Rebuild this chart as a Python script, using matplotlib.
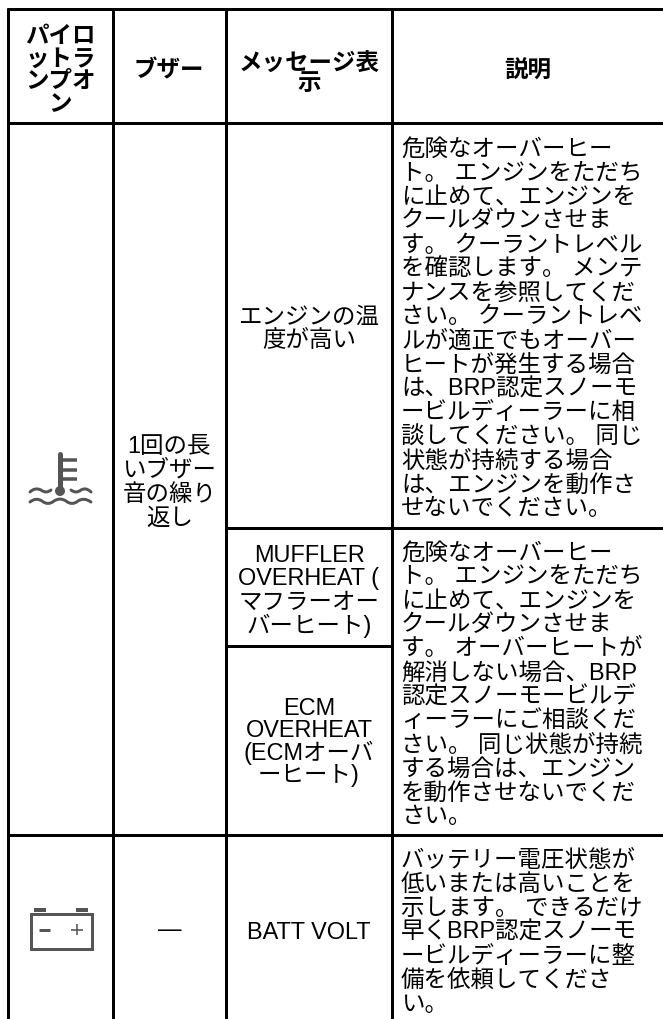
import matplotlib
matplotlib.use("Agg")
import matplotlib.pyplot as plt
from matplotlib.path import Path
from matplotlib.patches import PathPatch, Rectangle, Circle

W, H = 663, 1020
FONT = ['Liberation Sans', 'Noto Sans CJK JP']
FS = 16.9
PITCH = 24

col_x = [8, 112.5, 226, 392]
row_y = [10, 124, 529, 836, 1024]
msg_sep_y = 647

headers = [
    ["パイロ", "ットラ", "ンプオ", "ン"],
    ["ブザー"],
    ["メッセージ表", "示"],
    ["説明"],
]
buzzer_main = ["1回の長", "いブザー", "音の繰り", "返し"]
buzzer_batt = ["—"]
msg_engine = ["エンジンの温", "度が高い"]
msg_muffler = ["MUFFLER", "OVERHEAT (", "マフラーオー", "バーヒート)"]
msg_ecm = ["ECM", "OVERHEAT", "(ECMオーバ", "ーヒート)"]
msg_batt = ["BATT VOLT"]
desc_engine = [
    "危険なオーバーヒー", "ト。 エンジンをただち", "に止めて、エンジンを",
    "クールダウンさせま", "す。 クーラントレベル", "を確認します。 メンテ",
    "ナンスを参照してくだ", "さい。 クーラントレベ", "ルが適正でもオーバー",
    "ヒートが発生する場合", "は、BRP認定スノーモ", "ービルディーラーに相",
    "談してください。 同じ", "状態が持続する場合", "は、エンジンを動作さ",
    "せないでください。",
]
desc_overheat = [
    "危険なオーバーヒー", "ト。 エンジンをただち", "に止めて、エンジンを",
    "クールダウンさせま", "す。 オーバーヒートが", "解消しない場合、BRP",
    "認定スノーモービルデ", "ィーラーにご相談くだ", "さい。 同じ状態が持続",
    "する場合は、エンジン", "を動作させないでくだ", "さい。",
]
desc_batt = [
    "バッテリー電圧状態が", "低いまたは高いことを", "示します。 できるだけ",
    "早くBRP認定スノーモ", "ービルディーラーに整", "備を依頼してくださ", "い。",
]

fig = plt.figure(figsize=(W / 100, H / 100), dpi=100, facecolor="white")
ax = fig.add_axes([0, 0, 1, 1])
ax.set_xlim(0, W)
ax.set_ylim(H, 0)
ax.axis("off")

LW = 3 * 0.72
for x in col_x:
    ax.plot([x, x], [row_y[0] - 1.5, H], color="black", lw=LW, solid_capstyle="butt")
for y in row_y[:2]:
    ax.plot([col_x[0] - 1.5, W], [y, y], color="black", lw=LW, solid_capstyle="butt")
ax.plot([col_x[2], W], [row_y[2]] * 2, color="black", lw=LW, solid_capstyle="butt")
ax.plot([col_x[0], W], [row_y[3]] * 2, color="black", lw=LW, solid_capstyle="butt")
ax.plot([col_x[2], col_x[3]], [msg_sep_y] * 2, color="black", lw=LW, solid_capstyle="butt")


def block(lines, x, yc, ha="center", weight="normal", pitch=PITCH):
    y0 = yc - pitch * (len(lines) - 1) / 2
    for i, s in enumerate(lines):
        ax.text(x, y0 + i * pitch, s, ha=ha, va="center_baseline", fontsize=FS,
                family=FONT, weight=weight, color="black")


cx = [(col_x[i] + col_x[i + 1]) / 2 for i in range(3)]
hy = (row_y[0] + row_y[1]) / 2
block(headers[0], cx[0], hy + 1, weight="bold", pitch=22.5)
block(headers[1], cx[1], hy + 1.5, weight="bold")
block(headers[2], cx[2], hy + 4.5, weight="bold", pitch=19)
block(headers[3], (col_x[3] + W) / 2, hy + 1.5, weight="bold")

block(buzzer_main, cx[1], (row_y[1] + row_y[3]) / 2)
block(buzzer_batt, cx[1], (row_y[3] + row_y[4]) / 2 - 2.5)
block(msg_engine, cx[2], (row_y[1] + row_y[2]) / 2)
block(msg_muffler, cx[2], (row_y[2] + msg_sep_y) / 2, pitch=23.3)
block(msg_ecm, cx[2], (msg_sep_y + row_y[3]) / 2 - 2, pitch=22.5)
block(msg_batt, cx[2], (row_y[3] + row_y[4]) / 2)

TX = 401
block(desc_engine, TX, (row_y[1] + row_y[2]) / 2, ha="left")
block(desc_overheat, TX, (row_y[2] + row_y[3]) / 2, ha="left")
block(desc_batt, TX, (row_y[3] + row_y[4]) / 2, ha="left")

# pictograms
IC = "#555555"
ilw = 3 * 0.72
ax.plot([60, 60], [455, 492], color=IC, lw=5 * 0.72, solid_capstyle="round")
for ty in (461, 471, 480):
    ax.plot([60, 77], [ty, ty], color=IC, lw=3.5 * 0.72, solid_capstyle="butt")
ax.add_patch(Circle((60, 492), 5, color=IC, lw=0))


def wave(pts):
    codes = [Path.MOVETO] + [Path.CURVE3] * (len(pts) - 1)
    ax.add_patch(PathPatch(Path(pts, codes), fc="none", ec=IC, lw=ilw, capstyle="round"))


wave([(30, 493), (35, 488), (41, 491), (46, 495), (51, 491)])
wave([(71, 491), (76, 495), (81, 491), (86, 488), (91, 493)])
wave([(30, 503), (36, 498), (42, 502), (48, 507), (54, 502),
      (60, 498), (66, 502), (72, 507), (78, 502), (84, 498), (91, 503)])

ax.add_patch(Rectangle((30.5, 914.5), 61, 35.5, fc="white", ec=IC, lw=ilw))
ax.add_patch(Rectangle((34, 909), 12, 4, fc=IC, ec="none"))
ax.add_patch(Rectangle((76, 909), 12, 4, fc=IC, ec="none"))
ax.plot([39, 50], [930.5, 930.5], color=IC, lw=3 * 0.72, solid_capstyle="butt")
ax.plot([71, 83], [930.5, 930.5], color=IC, lw=1.6 * 0.72, solid_capstyle="butt")
ax.plot([77, 77], [925, 936], color=IC, lw=1.6 * 0.72, solid_capstyle="butt")

fig.savefig("out.png", dpi=100, facecolor="white")
